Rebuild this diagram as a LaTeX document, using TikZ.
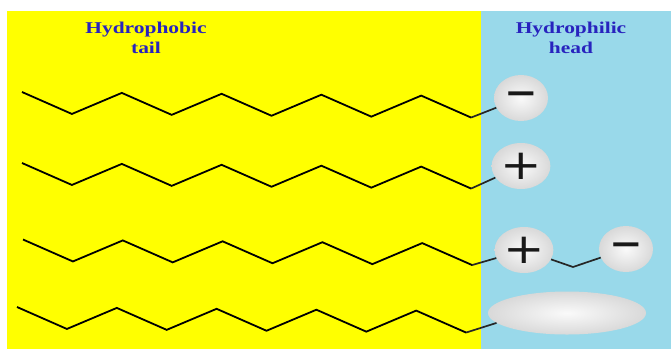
\documentclass[tikz,border=0pt]{standalone}
\usepackage{fontspec}
\setmainfont{Liberation Serif}
\newfontfamily\signfont{DejaVu Sans}
\usetikzlibrary{shapes.geometric}
\definecolor{tailyellow}{RGB}{255,255,0}
\definecolor{headblue}{RGB}{153,217,234}
\definecolor{titleblue}{RGB}{40,35,190}
\pgfdeclareradialshading{headshade}{\pgfpoint{0bp}{0bp}}{color(0bp)=(white!96!gray); color(50bp)=(black!28)}
\tikzset{
  chain/.style={line width=1.8pt, black},
  link/.style={line width=1.7pt, black!85},
  head/.style={ellipse, shading=headshade, minimum width=54pt, minimum height=46pt, inner sep=0pt, text=black!90},
  longhead/.style={ellipse, shading=headshade, minimum width=158pt, minimum height=43pt, inner sep=0pt},
  title/.style={font=\bfseries\fontsize{16.5}{20}\selectfont, text=titleblue, align=center, inner sep=0pt, anchor=north}
}
\newcommand{\plussign}{\scalebox{1.18}[1]{\signfont\fontsize{42}{42}\selectfont +}}
\newcommand{\minussign}{\scalebox{1.18}[1]{\signfont\bfseries\fontsize{34}{34}\selectfont −}}
\newcommand{\wide}[1]{\scalebox{1.3}[1]{#1}}
\begin{document}
\begin{tikzpicture}[x=1pt,y=-1pt]
\useasboundingbox (0,0) rectangle (671,349);
\fill[white] (0,0) rectangle (671,349);
\fill[tailyellow] (7,11) rectangle (481,349);
\fill[headblue] (481,11) rectangle (671,349);
\node[title] (tailtitle) at (146,21.8) {\wide{Hydrophobic}\\\wide{tail}};
\node[title] (headtitle) at (571,21.8) {\wide{Hydrophilic}\\\wide{head}};
% heads
\node[head] (h1) at (521,98) {\minussign};
\node[head] (h2) at (521,166) {\plussign};
\node[head] (h3) at (524,250) {\plussign};
\node[head] (h5) at (626,249) {\minussign};
\node[longhead] (h4) at (567,313) {};
% chains
\foreach \r/\xo/\yo in {1/22/92, 2/22/163, 3/23/239.5, 4/17/307}{
  \draw[chain] (\xo,\yo)
    \foreach \j in {1,...,9}{
      -- ({\xo+49.9*\j},{\yo+21.5*mod(\j,2)+0.45*\j})
    } coordinate (c\r);
}
\draw[link] (c1) -- (h1);
\draw[link] (c2) -- (h2);
\draw[link] (c3) -- (h3);
\draw[link] (c4) -- (h4.188);
\coordinate (k3) at (573,267);
\draw[link] (h3) -- (k3) -- (h5);
\end{tikzpicture}
\end{document}
